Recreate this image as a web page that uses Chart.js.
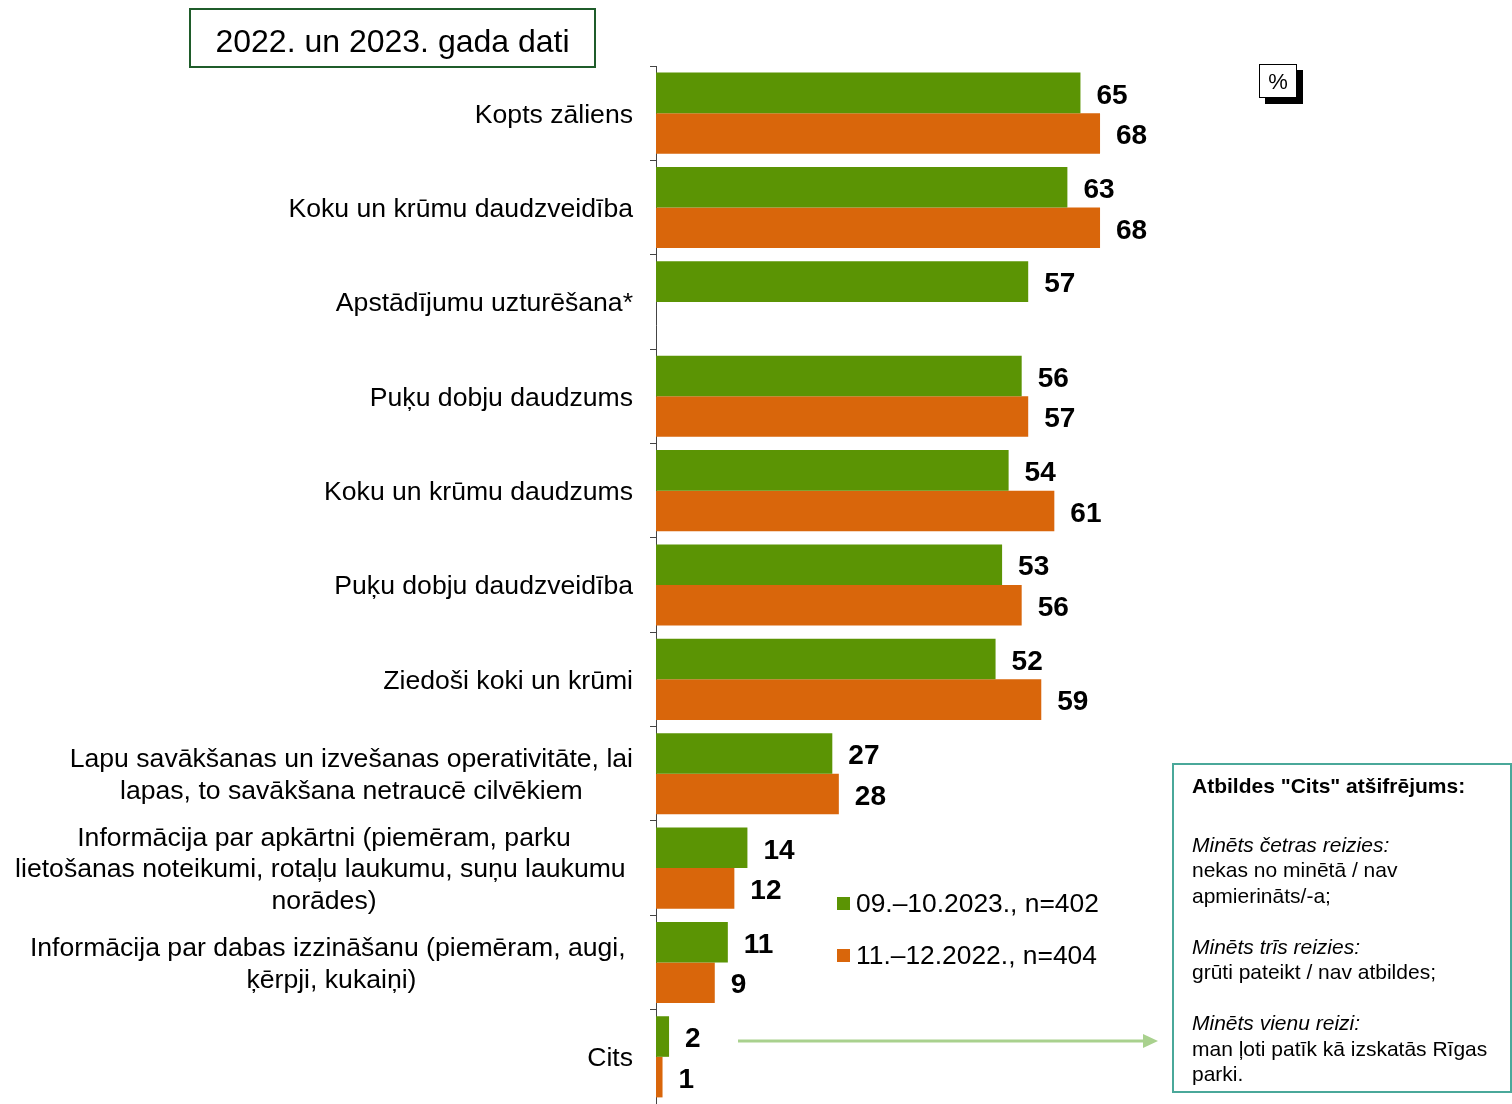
<!DOCTYPE html>
<html>
<head>
<meta charset="utf-8">
<script src="https://cdn.jsdelivr.net/npm/chart.js@4/dist/chart.umd.min.js"></script>
<style>
  html, body { margin: 0; padding: 0; background: #fff; }
  body { width: 1512px; height: 1104px; position: relative; overflow: hidden;
         font-family: "Liberation Sans", Arial, sans-serif; color: #000; }
  #wrap { position: absolute; left: 0; top: 0; width: 1512px; height: 1104px; }
  .title-box { position: absolute; left: 189px; top: 8px; width: 403px; height: 56px;
               border: 2px solid #1f5c2a; font-size: 32px; line-height: 62px; text-align: center; }
  .pct-box { position: absolute; left: 1259px; top: 64px; width: 36px; height: 32px;
             border: 1px solid #000; background: #fff; font-size: 22px; line-height: 34px;
             text-align: center; box-shadow: 6px 6px 0 #000; }
  .legend { position: absolute; left: 837px; font-size: 26.4px; line-height: 30px; white-space: nowrap; }
  .legend span.sw { display: inline-block; width: 13px; height: 13px; margin-right: 6px; vertical-align: 2px; }
  .note { position: absolute; left: 1172px; top: 763px; width: 340px; height: 330px; box-sizing: border-box;
          border: 2px solid #4aa89a; padding: 8px 0 0 18px; font-size: 21px; line-height: 25.5px; }
  .note p { margin: 0 0 25.5px 0; }
  .note p.head { margin-bottom: 33px; }
  .arrow { position: absolute; left: 738px; top: 1029px; }
</style>
</head>
<body>
<div id="wrap"><canvas id="chart" width="1512" height="1104"></canvas></div>

<div class="title-box">2022. un 2023. gada dati</div>
<div class="pct-box">%</div>

<div class="legend" style="top:888px"><span class="sw" style="background:#5B9404"></span>09.–10.2023., n=402</div>
<div class="legend" style="top:940px"><span class="sw" style="background:#D9660B"></span>11.–12.2022., n=404</div>

<div class="note">
  <p class="head"><b>Atbildes "Cits" atšifrējums:</b></p>
  <p><i>Minēts četras reizies:</i><br>nekas no minētā / nav<br>apmierināts/-a;</p>
  <p><i>Minēts trīs reizies:</i><br>grūti pateikt / nav atbildes;</p>
  <p><i>Minēts vienu reizi:</i><br>man ļoti patīk kā izskatās Rīgas<br>parki.</p>
</div>

<svg class="arrow" width="430" height="24">
  <line x1="0" y1="12" x2="410" y2="12" stroke="#a9d18e" stroke-width="3"/>
  <polygon points="405,5 420,12 405,19" fill="#a9d18e"/>
</svg>

<script>
// Categories (each entry = label lines)
const categories = [
    ['Kopts zāliens'],
    ['Koku un krūmu daudzveidība'],
    ['Apstādījumu uzturēšana*'],
    ['Puķu dobju daudzums'],
    ['Koku un krūmu daudzums'],
    ['Puķu dobju daudzveidība'],
    ['Ziedoši koki un krūmi'],
    ['Lapu savākšanas un izvešanas operativitāte, lai', 'lapas, to savākšana netraucē cilvēkiem'],
    ['Informācija par apkārtni (piemēram, parku', 'lietošanas noteikumi, rotaļu laukumu, suņu laukumu ', 'norādes)'],
    ['Informācija par dabas izzināšanu (piemēram, augi, ', 'ķērpji, kukaiņi)'],
    ['Cits']
];

const series2023 = [65, 63, 57, 56, 54, 53, 52, 27, 14, 11, 2];
const series2022 = [68, 68, null, 57, 61, 56, 59, 28, 12, 9, 1];

const seriesNames = ['09.–10.2023., n=402', '11.–12.2022., n=404'];
const GREEN = '#5B9404';
const ORANGE = '#D9660B';

const FONT = '"Liberation Sans", Arial, sans-serif';

// value labels right of each bar
const valueLabels = {
    id: 'valueLabels',
    afterDatasetsDraw(chart) {
        const ctx = chart.ctx;
        ctx.save();
        ctx.font = 'bold 28px ' + FONT;
        ctx.fillStyle = '#000';
        ctx.textAlign = 'left';
        ctx.textBaseline = 'middle';
        chart.data.datasets.forEach((ds, i) => {
            chart.getDatasetMeta(i).data.forEach((bar, j) => {
                const v = ds.data[j];
                if (v === null) return;
                ctx.fillText(String(v), bar.x + 16, bar.y + 3);
            });
        });
        ctx.restore();
    }
};

// category labels: block right-aligned to the axis, lines centred within block
const categoryLabels = {
    id: 'categoryLabels',
    afterDraw(chart) {
        const ctx = chart.ctx;
        const y = chart.scales.y;
        const right = y.right - 23;
        const lh = 31.5;
        ctx.save();
        ctx.font = '26.6px ' + FONT;
        ctx.fillStyle = '#000';
        ctx.textAlign = 'center';
        ctx.textBaseline = 'middle';
        categories.forEach((lines, i) => {
            const w = Math.max(...lines.map(l => ctx.measureText(l).width));
            const cx = right - w / 2;
            const cy = y.getPixelForValue(i) + 2;
            const y0 = cy - (lines.length - 1) * lh / 2;
            lines.forEach((l, k) => ctx.fillText(l, cx, y0 + k * lh));
        });
        ctx.restore();
    }
};

new Chart(document.getElementById('chart'), {
    type: 'bar',
    data: {
        labels: categories.map(c => c.join(' ')),
        datasets: [
            { label: seriesNames[0], data: series2023, backgroundColor: GREEN },
            { label: seriesNames[1], data: series2022, backgroundColor: ORANGE }
        ]
    },
    options: {
        indexAxis: 'y',
        responsive: false,
        animation: false,
        events: [],
        layout: { padding: { left: 0, right: 203, top: 66, bottom: 0 } },
        datasets: { bar: { categoryPercentage: 0.86, barPercentage: 1 } },
        plugins: { legend: { display: false }, tooltip: { enabled: false } },
        scales: {
            x: { display: false, min: 0, max: 100 },
            y: {
                afterFit(scale) { scale.width = 656; },
                ticks: { display: false },
                grid: { drawOnChartArea: false, drawTicks: true, tickLength: 6, color: '#444', offset: true },
                border: { display: true, color: '#444', width: 1 }
            }
        }
    },
    plugins: [valueLabels, categoryLabels]
});
</script>
</body>
</html>
